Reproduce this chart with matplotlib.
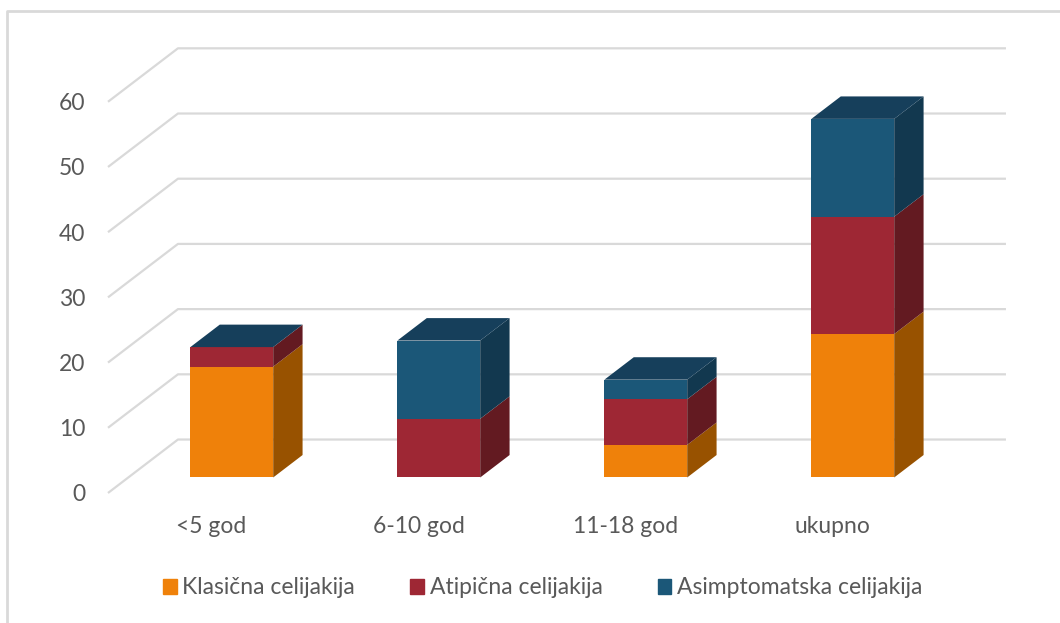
import numpy as np
import matplotlib.pyplot as plt
from matplotlib.patches import Polygon
from matplotlib.lines import Line2D

categories = ["<5 god", "6-10 god", "11-18 god", "ukupno"]
series = ["Klasična celijakija", "Atipična celijakija", "Asimptomatska celijakija"]
klasicna = [17, 0, 5, 22]
atipicna = [3, 9, 7, 18]
asimptomatska = [0, 12, 3, 15]
yticks = [0, 10, 20, 30, 40, 50, 60]

front_cols = ["#EF810A", "#9E2734", "#1B5778"]
side_cols = ["#985200", "#631A21", "#12384F"]
top_col = "#163F5B"
text_col = "#595959"
grid_col = "#D9D9D9"

plt.rcParams["font.family"] = ["Lato", "DejaVu Sans"]

fig = plt.figure(figsize=(10.6, 6.23), dpi=100)
ax = fig.add_axes([0, 0, 1, 1])
# oblique "3d" floor: x in category units, y in value units
ax.set_xlim(-0.5217, 4.599)
ax.set_ylim(-19.94, 75.61)
ax.axis("off")

DX = 0.338   # depth offset in category units
DY = 8.2     # depth offset in value units
d0, d1 = 0.29, 0.71
width = 0.4
n = len(categories)

# walls and gridlines
for v in yticks:
    ax.plot([0, DX, n + DX], [v, v + DY, v + DY], color=grid_col, lw=1.6,
            zorder=1, solid_capstyle="butt")
    ax.text(-0.11, v - 0.3, str(v), ha="right", va="center", fontsize=16.5,
            color=text_col)

for i, c in enumerate(categories):
    ax.text(i + 0.5, -5.2, c, ha="center", va="center", fontsize=16.5,
            color=text_col)

data = [klasicna, atipicna, asimptomatska]
x = np.arange(n) + 0.5 - width / 2
bottom = np.zeros(n)
ddx = (d1 - d0) * DX
ddy = (d1 - d0) * DY
for k, vals in enumerate(data):
    vals = np.array(vals, dtype=float)
    ax.bar(x + d0 * DX, vals, width, bottom=bottom + d0 * DY, align="edge",
           color=front_cols[k], zorder=3, label=series[k])
    for i in range(n):
        if vals[i] <= 0:
            continue
        xr = x[i] + d0 * DX + width
        yb = bottom[i] + d0 * DY
        yt = yb + vals[i]
        ax.add_patch(Polygon([(xr, yb), (xr + ddx, yb + ddy),
                              (xr + ddx, yt + ddy), (xr, yt)],
                             closed=True, facecolor=side_cols[k],
                             edgecolor="none", zorder=3))
    bottom += vals

# top faces
for i in range(n):
    xl = x[i] + d0 * DX
    yt = bottom[i] + d0 * DY
    ax.add_patch(Polygon([(xl, yt), (xl + width, yt),
                          (xl + width + ddx, yt + ddy), (xl + ddx, yt + ddy)],
                         closed=True, facecolor=top_col, edgecolor="none",
                         zorder=4))

# outer chart border (only top and left visible)
fig.add_artist(Line2D([7 / 1060, 7 / 1060, 1], [0, 1 - 11 / 623, 1 - 11 / 623],
                      color=grid_col, lw=2))

handles = [plt.Rectangle((0, 0), 1, 1, color=c) for c in front_cols]
fig.legend(handles, series, loc="center", bbox_to_anchor=(0.512, 1 - 588 / 623),
           ncol=3, frameon=False, fontsize=16.5, handlelength=0.6,
           handleheight=0.6, handletextpad=0.25, columnspacing=2.4,
           labelcolor=text_col)

fig.savefig("out.png", dpi=100)
